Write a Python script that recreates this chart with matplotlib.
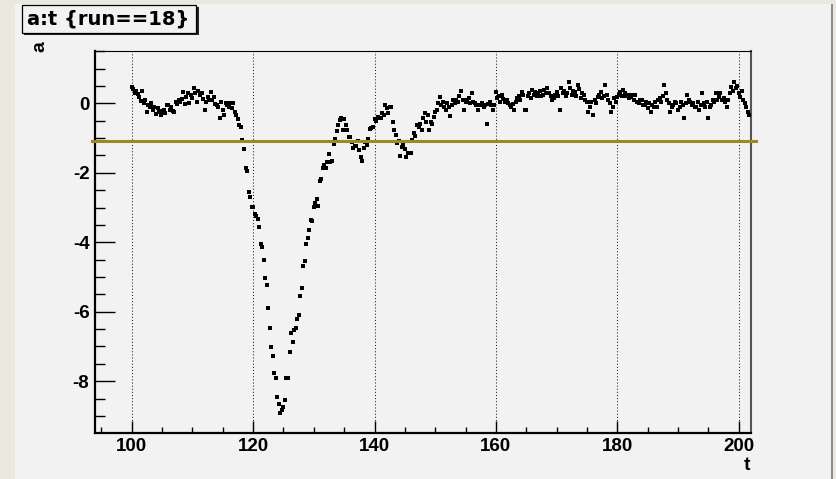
import numpy as np
import matplotlib
matplotlib.use("Agg")
import matplotlib.pyplot as plt
from matplotlib.patches import Rectangle
from matplotlib.ticker import MultipleLocator

plt.rcParams['axes.unicode_minus'] = False

t_start, t_stop, t_step = 100.0, 202.0, 0.25
a_vals = [
    0.48, 0.42, 0.30, 0.35,   0.26, 0.19, 0.07, 0.34,      # 100-101
    0.00, 0.10, -0.24, -0.05, -0.10, 0.00, -0.19, -0.12,   # 102-103
    -0.31, -0.14, -0.25, -0.34, -0.22, -0.19, -0.28, -0.05,  # 104-105
    -0.05, -0.19, -0.12, -0.22, -0.26, 0.05, -0.02, 0.10,  # 106-107
    0.05, 0.12, 0.33, -0.02,  0.19, 0.29, 0.00, 0.25,      # 108-109
    0.15, 0.43, 0.29, 0.05,   0.36, 0.25, 0.30, 0.12,      # 110-111
    -0.19, 0.05, 0.19, 0.10,  0.33, 0.10, 0.18, -0.02,     # 112-113
    -0.05, -0.10, -0.43, 0.05, -0.20, -0.34, 0.00, -0.05,  # 114-115
    -0.10, 0.02, -0.15, 0.02, -0.25, -0.34, -0.45, -0.62,  # 116-117
    -0.67, -1.06, -1.32, -1.87, -1.94, -2.55, -2.70, -2.99,  # 118-119
    -2.99, -3.20, -3.24, -3.34, -3.55, -4.06, -4.14, -4.50,  # 120-121
    -5.02, -5.24, -5.88, -6.47, -7.02, -7.26, -7.75, -7.90,  # 122-123
    -8.45, -8.65, -8.92, -8.83, -8.74, -8.54, -7.90, -7.90,  # 124-125
    -7.15, -6.60, -6.86, -6.52, -6.48, -6.22, -6.09, -5.56,  # 126-127
    -5.33, -4.68, -4.54, -4.05, -3.89, -3.65, -3.36, -3.40,  # 128-129
    -2.98, -2.86, -2.76, -2.95, -2.23, -2.17, -1.87, -1.77,  # 130-131
    -1.87, -1.68, -1.47, -1.68, -1.65, -1.17, -1.04, -0.79,  # 132-133
    -0.62, -0.48, -0.43, -0.77, -0.45, -0.62, -0.77, -0.96,  # 134-135
    -0.96, -1.10, -1.30, -1.24, -1.24, -1.08, -1.34, -1.55,  # 136-137
    -1.65, -1.30, -1.12, -1.20, -1.04, -0.75, -0.72, -0.67,  # 138-139
    -0.46, -0.50, -0.40, -0.43, -0.43, -0.29, -0.35, -0.05,  # 140-141
    -0.15, -0.29, -0.10, -0.10, -0.53, -0.77, -0.91, -1.15,  # 142-143
    -1.08, -1.51, -1.27, -1.20, -1.32, -1.55, -1.42, -1.42,  # 144-145
    -1.42, -1.06, -0.85, -0.95, -0.62, -0.67, -0.60, -0.77,  # 146-147
    -0.43, -0.29, -0.53, -0.35, -0.77, -0.53, -0.60, -0.40,  # 148-149
    -0.24, -0.19, 0.00, 0.19, -0.05, 0.05, -0.10, -0.19,   # 150-151
    0.00, -0.10, -0.38, -0.05, 0.10, 0.00, 0.10, 0.05,     # 152-153
    0.20, 0.36, 0.10, -0.19,  0.05, 0.10, 0.15, 0.00,      # 154-155
    0.29, 0.05, 0.00, -0.05,  -0.19, -0.05, -0.05, 0.02,   # 156-157
    -0.10, -0.05, -0.60, -0.02, 0.05, -0.05, -0.19, -0.05,  # 158-159
    0.33, 0.15, 0.20, 0.05,   0.24, 0.12, 0.05, 0.10,      # 160-161
    0.00, -0.05, -0.10, -0.02, -0.19, 0.05, 0.14, 0.20,    # 162-163
    0.10, 0.33, 0.25, -0.19,  -0.19, 0.20, 0.29, 0.15,     # 164-165
    0.38, 0.25, 0.33, 0.20,   0.29, 0.35, 0.20, 0.25,      # 166-167
    0.38, 0.30, 0.43, 0.29,   0.20, 0.10, 0.15, 0.25,      # 168-169
    0.33, 0.20, -0.19, 0.43,  0.29, 0.35, 0.20, 0.30,      # 170-171
    0.62, 0.43, 0.25, 0.35,   0.33, 0.20, 0.53, 0.40,      # 172-173
    0.14, 0.30, 0.24, 0.10,   0.05, -0.24, -0.10, 0.05,    # 174-175
    -0.34, 0.10, 0.00, 0.19,  0.25, 0.33, 0.15, 0.20,      # 176-177
    0.53, 0.24, 0.10, 0.00,   -0.24, -0.10, 0.14, 0.05,    # 178-179
    0.19, 0.25, 0.33, 0.20,   0.38, 0.29, 0.20, 0.25,      # 180-181
    0.14, 0.19, 0.25, 0.10,   0.24, 0.05, 0.00, 0.10,      # 182-183
    0.10, -0.05, -0.05, 0.05, -0.14, 0.00, -0.24, -0.05,   # 184-185
    -0.10, 0.05, -0.10, 0.10, 0.14, 0.05, 0.20, 0.53,      # 186-187
    0.29, 0.10, 0.00, -0.24,  -0.10, -0.05, 0.05, 0.00,    # 188-189
    -0.19, -0.10, 0.05, -0.05, -0.43, 0.00, 0.24, 0.10,    # 190-191
    0.05, -0.05, 0.00, -0.10, -0.10, 0.05, -0.19, -0.05,   # 192-193
    0.29, 0.00, -0.10, 0.05,  -0.43, -0.10, -0.05, 0.10,   # 194-195
    0.05, 0.29, 0.10, 0.19,   0.29, 0.10, 0.15, 0.05,      # 196-197
    -0.10, 0.10, 0.29, 0.48,  0.35, 0.62, 0.43, 0.50,      # 198-199
    0.29, 0.19, 0.35, 0.10,   0.00, -0.10, -0.24, -0.34,   # 200-201
]
cut_level = -1.08
cut_range = [93.4, 202.8]

title = "a:t {run==18}"
x_label = "t"
y_label = "a"

t = np.arange(t_start, t_stop, t_step)
a = np.array(a_vals)

W, H = 836, 479
fig = plt.figure(figsize=(W / 100, H / 100), dpi=100)
fig.patch.set_facecolor('#ebe8df')

def fx(px):
    return px / W

def fy(py):
    return 1 - py / H

## canvas panel (behind the axes)
fig.patches.append(Rectangle((fx(15), 0), fx(816), fy(4), transform=fig.transFigure,
                             facecolor='#f2f2f2', edgecolor='none', zorder=-10))
fig.patches.append(Rectangle((fx(830.5), 0), fx(2), fy(4), transform=fig.transFigure,
                             facecolor='#8c8c8c', edgecolor='none', zorder=-10))

ax = fig.add_axes([fx(95), fy(433), fx(751 - 95), (433 - 51) / H])
ax.set_facecolor('#f2f2f2')

ax.plot(t, a, linestyle='none', marker='s', markersize=2.4, markeredgewidth=0,
        color='black', zorder=3)
ax.plot(cut_range, [cut_level, cut_level], color='#9b8a22', linewidth=2.2,
        clip_on=False, zorder=4)

ax.set_xlim(93.95, 202.03)
ax.set_ylim(-9.49, 1.505)

ax.xaxis.set_major_locator(MultipleLocator(20))
ax.xaxis.set_minor_locator(MultipleLocator(5))
ax.yaxis.set_major_locator(MultipleLocator(2))
ax.yaxis.set_minor_locator(MultipleLocator(0.5))
ax.grid(True, axis='x', which='major', color='#222222', linestyle=(0, (1, 2)), linewidth=0.75)

ax.tick_params(axis='x', which='major', direction='in', length=8.6, width=1, pad=3.5,
               labelsize=13.5)
ax.tick_params(axis='x', which='minor', direction='in', length=4.3, width=1)
ax.tick_params(axis='y', which='major', direction='in', length=14.4, width=1, pad=4,
               labelsize=13.5)
ax.tick_params(axis='y', which='minor', direction='in', length=7.2, width=1)
for lab in ax.get_xticklabels() + ax.get_yticklabels():
    lab.set_fontfamily('Liberation Sans')
    lab.set_fontweight('bold')

ax.spines['left'].set_linewidth(1.6)
ax.spines['bottom'].set_linewidth(1.6)
ax.spines['top'].set_linewidth(0.8)
ax.spines['right'].set_linewidth(1.5)
ax.spines['right'].set_color('#555555')

## axis titles
fig.text(fx(747), fy(465), x_label, ha='center', va='center', fontsize=14,
         fontweight='bold', family='Liberation Sans')
fig.text(fx(40), fy(47), y_label, ha='center', va='center', rotation=90, fontsize=14,
         fontweight='bold', family='Liberation Sans')

## title box with shadow
fig.patches.append(Rectangle((fx(24), fy(35)), fx(175), (35 - 7) / H, transform=fig.transFigure,
                             facecolor='#222222', edgecolor='none', zorder=5))
fig.patches.append(Rectangle((fx(22), fy(33)), fx(174), (33 - 5) / H, transform=fig.transFigure,
                             facecolor='#f2f2f2', edgecolor='black', linewidth=0.9, zorder=6))
fig.text(fx(108), fy(19.5), title, ha='center', va='center', fontsize=14,
         fontweight='bold', family='DejaVu Sans', zorder=7)

fig.savefig("out.png", dpi=100, facecolor=fig.get_facecolor())
